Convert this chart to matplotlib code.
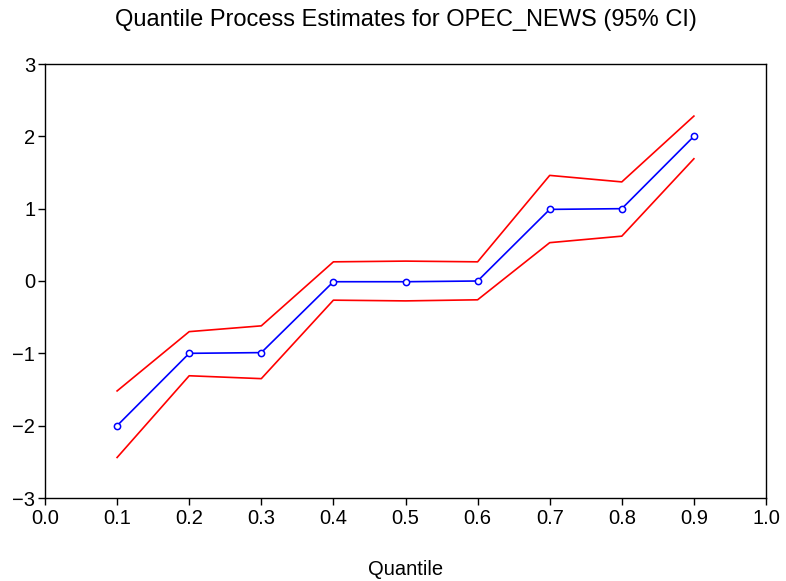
import matplotlib
matplotlib.use("Agg")
import matplotlib.pyplot as plt

plt.rcParams['font.family'] = ['Liberation Sans', 'DejaVu Sans']

quantiles = [0.1, 0.2, 0.3, 0.4, 0.5, 0.6, 0.7, 0.8, 0.9]
estimate = [-2.00, -1.00, -0.99, -0.01, -0.01, 0.00, 0.99, 1.00, 2.00]
upper_ci = [-1.52, -0.70, -0.62, 0.265, 0.275, 0.265, 1.46, 1.37, 2.28]
lower_ci = [-2.44, -1.31, -1.35, -0.265, -0.275, -0.26, 0.53, 0.62, 1.69]
xticks = [0.0, 0.1, 0.2, 0.3, 0.4, 0.5, 0.6, 0.7, 0.8, 0.9, 1.0]
yticks = [-3, -2, -1, 0, 1, 2, 3]

fig = plt.figure(figsize=(7.86, 5.81), dpi=100)
ax = fig.add_axes([45/786, 1-498/581, (766-45)/786, (498-64)/581])

ax.plot(quantiles, upper_ci, color='#ff0000', lw=1.2)
ax.plot(quantiles, lower_ci, color='#ff0000', lw=1.2)
ax.plot(quantiles, estimate, color='#0000ff', lw=1.2, marker='o', ms=4.5,
        mfc='white', mec='#0000ff', mew=1.1)

ax.set_xlim(0, 1)
ax.set_ylim(-3, 3)
ax.set_xticks(xticks)
ax.set_xticklabels([f"{v:.1f}" for v in xticks])
ax.set_yticks(yticks)
ax.set_yticklabels([str(v).replace('-', '\u2212') for v in yticks])
ax.tick_params(direction='out', length=5, width=1, labelsize=14.5, color='black')
ax.tick_params(axis='x', pad=3)
ax.tick_params(axis='y', pad=2)
for s in ax.spines.values():
    s.set_linewidth(1)
ax.set_xlabel('Quantile', fontsize=14.5, labelpad=23)
fig.text(406/786, 1-20/581, 'Quantile Process Estimates for OPEC_NEWS (95% CI)',
         ha='center', va='center', fontsize=17)

fig.savefig('out.png', dpi=100)
